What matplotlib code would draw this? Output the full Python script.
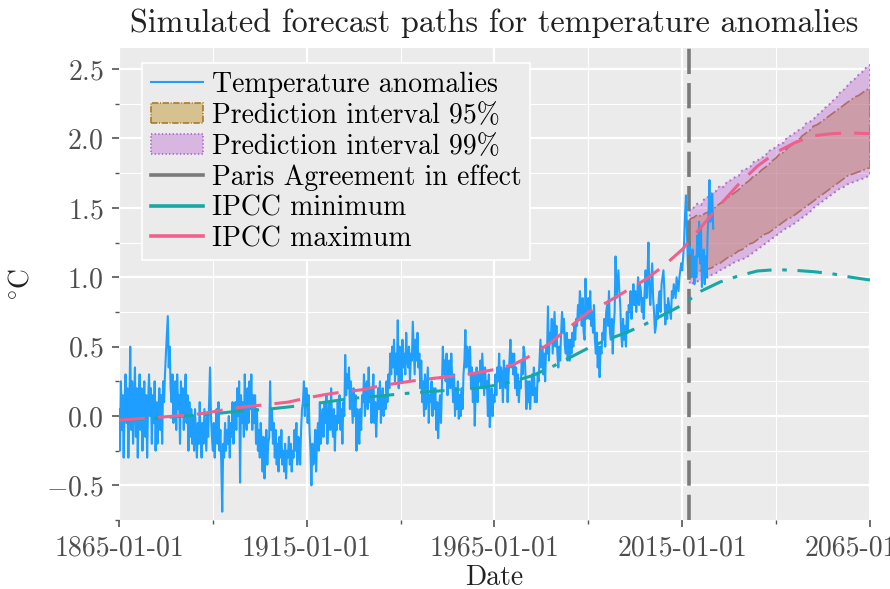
import pandas as pd
import matplotlib
matplotlib.use("Agg")
import matplotlib.pyplot as plt
from matplotlib.colors import to_rgba
from matplotlib.lines import Line2D
from matplotlib.ticker import MultipleLocator, FixedLocator

# quarterly temperature anomalies (deg C), 1865 Q1 onwards
temp_anom = [
    0.05, -0.25, 0.25, -0.10, 0.15, -0.30, 0.10, 0.30, -0.05, 0.20, -0.30, 0.05, 0.50, -0.10, 0.25, -0.20, 0.10, 0.35, -0.15, 0.20,
    -0.30, 0.10, 0.30, -0.10, 0.20, -0.25, 0.05, 0.25, -0.15, 0.15, -0.30, 0.10, 0.30, 0.00, 0.20, -0.20, 0.15, -0.05, 0.25, -0.25,
    0.10, -0.20, 0.05, 0.20, -0.10, 0.15, -0.20, 0.25, 0.10, 0.30, 0.45, 0.58, 0.72, 0.35, 0.50, 0.20, 0.10, 0.30, -0.05, 0.20,
    0.25, -0.10, 0.30, 0.05, 0.15, -0.20, 0.25, 0.00, 0.20, -0.10, 0.15, 0.30, -0.05, 0.15, -0.25, 0.10, -0.15, 0.05, -0.20, 0.00,
    -0.25, 0.05, -0.15, -0.30, -0.05, -0.20, 0.10, -0.15, -0.30, -0.05, -0.20, 0.05, -0.10, -0.25, 0.00, -0.15, 0.10, 0.35, 0.00, -0.15,
    -0.25, -0.05, -0.30, -0.10, 0.05, -0.20, 0.10, -0.25, -0.10, -0.35, -0.69, -0.20, -0.30, -0.05, -0.25, -0.10, -0.20, 0.00, -0.30, -0.05,
    -0.15, 0.10, -0.20, 0.05, 0.10, -0.10, 0.20, 0.00, 0.25, -0.48, 0.15, -0.05, 0.10, -0.15, 0.30, 0.00, -0.10, 0.20, -0.05, 0.25,
    0.05, 0.30, -0.10, 0.15, -0.05, 0.15, -0.20, 0.05, -0.25, -0.10, -0.30, -0.05, -0.20, -0.40, -0.15, -0.45, -0.30, -0.10, -0.35, -0.20,
    -0.15, 0.25, -0.10, 0.05, -0.20, -0.05, -0.30, -0.10, -0.35, -0.20, -0.40, -0.15, -0.30, -0.10, -0.35, -0.25, -0.40, -0.20, -0.45, -0.25,
    -0.30, -0.15, -0.35, -0.20, -0.40, -0.25, -0.30, -0.10, -0.25, -0.05, -0.35, -0.15, -0.20, -0.35, -0.10, 0.05, 0.10, 0.25, 0.00, 0.20,
    0.20, -0.05, 0.15, -0.10, -0.25, -0.50, -0.20, -0.35, -0.30, -0.10, -0.40, -0.15, -0.05, -0.25, 0.10, -0.20, -0.10, 0.05, -0.15, 0.10,
    -0.05, 0.15, -0.20, 0.00, 0.10, -0.10, 0.20, -0.05, -0.15, 0.05, -0.25, 0.00, -0.10, 0.10, -0.05, 0.15, -0.10, 0.05, -0.20, 0.10,
    0.00, 0.44, 0.15, 0.30, 0.20, 0.35, 0.05, 0.25, 0.10, -0.05, 0.20, 0.00, 0.15, -0.25, 0.05, -0.10, -0.20, 0.05, -0.10, 0.15,
    0.10, 0.30, 0.00, 0.20, 0.25, 0.05, 0.35, 0.10, 0.20, -0.05, 0.15, 0.30, -0.05, 0.10, -0.15, 0.05, 0.20, 0.05, 0.25, -0.05,
    0.10, 0.20, 0.00, 0.15, 0.05, 0.25, 0.10, 0.30, 0.20, 0.45, 0.30, 0.50, 0.35, 0.55, 0.25, 0.45, 0.30, 0.69, 0.20, 0.50,
    0.40, 0.25, 0.55, 0.35, 0.45, 0.30, 0.60, 0.40, 0.35, 0.50, 0.25, 0.45, 0.40, 0.68, 0.50, 0.30, 0.55, 0.40, 0.60, 0.35,
    0.45, 0.20, 0.40, 0.10, 0.25, 0.00, 0.30, 0.05, 0.20, 0.35, -0.05, 0.15, 0.10, 0.25, 0.00, 0.20, 0.05, 0.20, -0.10, 0.10,
    -0.16, 0.05, 0.15, -0.05, 0.20, 0.50, 0.30, 0.40, 0.25, 0.45, 0.15, 0.35, 0.40, 0.20, 0.45, 0.25, 0.10, 0.30, 0.00, 0.20,
    0.05, 0.25, -0.02, 0.15, 0.00, 0.20, 0.05, 0.30, 0.40, 0.62, 0.35, 0.50, 0.45, 0.30, 0.50, 0.20, 0.35, 0.10, 0.30, -0.07,
    0.20, 0.35, 0.10, 0.30, 0.25, 0.40, 0.20, 0.45, 0.30, 0.15, 0.35, 0.20, 0.25, 0.00, 0.30, -0.08, 0.05, 0.20, 0.00, 0.15,
    0.10, 0.30, 0.15, 0.35, 0.25, 0.45, 0.20, 0.35, 0.30, 0.10, 0.40, 0.25, 0.20, 0.35, 0.10, 0.30, 0.40, 0.55, 0.35, 0.45,
    0.30, 0.45, 0.20, 0.35, 0.15, 0.30, 0.10, 0.25, 0.20, 0.40, 0.30, 0.50, 0.45, 0.30, 0.05, 0.25, 0.10, 0.25, 0.05, 0.20,
    0.30, 0.15, 0.35, 0.10, 0.20, 0.10, 0.30, 0.25, 0.40, 0.55, 0.35, 0.50, 0.30, 0.45, 0.25, 0.50, 0.45, 0.79, 0.40, 0.60,
    0.55, 0.70, 0.45, 0.60, 0.75, 0.50, 0.65, 0.45, 0.35, 0.50, 0.40, 0.60, 0.75, 0.60, 0.70, 0.50, 0.45, 0.60, 0.40, 0.55,
    0.40, 0.55, 0.45, 0.60, 0.50, 0.65, 0.55, 0.70, 0.65, 0.80, 0.70, 0.90, 0.80, 0.65, 0.85, 0.60, 0.55, 0.99, 0.70, 0.80,
    0.85, 0.70, 0.90, 0.65, 0.75, 0.60, 0.80, 0.55, 0.45, 0.60, 0.35, 0.50, 0.28, 0.50, 0.45, 0.60, 0.55, 0.70, 0.50, 0.75,
    0.80, 0.65, 0.90, 0.60, 0.55, 0.70, 0.45, 0.65, 0.75, 1.15, 0.85, 0.95, 1.05, 0.90, 0.80, 0.60, 0.50, 0.70, 0.55, 0.65,
    0.50, 0.75, 0.60, 0.80, 0.75, 0.90, 0.70, 0.85, 0.95, 0.80, 0.90, 0.75, 0.85, 1.00, 0.80, 0.95, 0.90, 0.75, 0.85, 0.70,
    0.90, 1.05, 0.85, 1.00, 1.25, 0.90, 0.80, 0.95, 1.10, 0.85, 0.75, 0.60, 0.65, 0.80, 0.70, 0.85, 0.90, 0.75, 0.95, 1.00,
    1.05, 0.90, 0.66, 0.80, 0.70, 0.85, 0.80, 0.75, 0.70, 0.90, 0.85, 0.95, 0.90, 0.85, 1.00, 0.95, 0.90, 1.00, 1.05, 1.10,
    1.05, 1.15, 1.25, 1.45, 1.59, 1.35, 1.10, 1.00, 1.25, 1.10, 1.00, 1.20, 1.05, 0.95, 1.15, 1.00, 1.30, 1.15, 1.40, 1.10,
    1.35, 0.93, 1.10, 1.20, 0.95, 1.15, 1.00, 1.30, 1.45, 1.70, 1.40, 1.55, 1.60, 1.35,
]

# simulated prediction intervals, yearly 2017-2065
pi99_hi = [1.49, 1.50, 1.53, 1.52, 1.57, 1.58, 1.61, 1.62, 1.66, 1.65, 1.69, 1.70, 1.72, 1.73, 1.77, 1.78, 1.79,
           1.83, 1.84, 1.86, 1.87, 1.91, 1.92, 1.94, 1.96, 1.97, 2.01, 2.02, 2.04, 2.06, 2.07, 2.11, 2.12, 2.14,
           2.17, 2.19, 2.22, 2.24, 2.27, 2.29, 2.33, 2.35, 2.38, 2.41, 2.43, 2.46, 2.48, 2.51, 2.53]
pi95_hi = [1.42, 1.43, 1.45, 1.44, 1.46, 1.47, 1.48, 1.51, 1.53, 1.55, 1.57, 1.59, 1.61, 1.63, 1.66, 1.68, 1.70,
           1.73, 1.74, 1.77, 1.79, 1.81, 1.84, 1.86, 1.89, 1.90, 1.93, 1.95, 1.97, 1.99, 2.02, 2.04, 2.06, 2.09,
           2.10, 2.12, 2.14, 2.16, 2.18, 2.20, 2.22, 2.24, 2.26, 2.28, 2.30, 2.31, 2.33, 2.35, 2.36]
pi95_lo = [1.02, 1.03, 1.03, 1.05, 1.06, 1.06, 1.07, 1.09, 1.10, 1.12, 1.14, 1.15, 1.17, 1.19, 1.20, 1.22, 1.24,
           1.25, 1.27, 1.29, 1.31, 1.32, 1.34, 1.36, 1.38, 1.40, 1.42, 1.43, 1.45, 1.47, 1.49, 1.51, 1.53, 1.55,
           1.57, 1.59, 1.61, 1.63, 1.65, 1.67, 1.69, 1.71, 1.73, 1.74, 1.75, 1.76, 1.77, 1.78, 1.79]
pi99_lo = [0.95, 0.96, 0.97, 0.98, 0.99, 1.00, 1.02, 1.03, 1.05, 1.06, 1.08, 1.09, 1.11, 1.12, 1.13, 1.14, 1.16,
           1.18, 1.20, 1.22, 1.24, 1.26, 1.28, 1.30, 1.32, 1.34, 1.36, 1.37, 1.39, 1.41, 1.43, 1.45, 1.47, 1.50,
           1.52, 1.54, 1.56, 1.58, 1.60, 1.62, 1.64, 1.65, 1.67, 1.68, 1.69, 1.70, 1.71, 1.72, 1.74]

# IPCC scenario curves, every 5 years 1865-2065
ipcc_min = [-0.03, -0.025, -0.015, -0.005, 0.005, 0.015, 0.03, 0.04, 0.05, 0.065, 0.08, 0.10, 0.12, 0.135,
            0.145, 0.16, 0.17, 0.18, 0.19, 0.20, 0.22, 0.25, 0.29, 0.35, 0.42, 0.49, 0.55, 0.60, 0.66, 0.73,
            0.80, 0.90, 0.965, 1.01, 1.045, 1.055, 1.05, 1.04, 1.025, 1.00, 0.98]
ipcc_max = [-0.03, -0.02, -0.01, 0.0, 0.01, 0.03, 0.055, 0.07, 0.085, 0.10, 0.13, 0.155, 0.175, 0.19,
            0.22, 0.24, 0.26, 0.275, 0.29, 0.31, 0.335, 0.37, 0.44, 0.53, 0.64, 0.75, 0.82, 0.90, 0.98, 1.08,
            1.20, 1.36, 1.52, 1.67, 1.80, 1.90, 1.97, 2.02, 2.035, 2.04, 2.035]

paris_date = "2016-11-04"
xtick_labels = ["1865-01-01", "1915-01-01", "1965-01-01", "2015-01-01", "2065-01-01"]
xminor = ["1890-01-01", "1940-01-01", "1990-01-01", "2040-01-01"]

plt.rcParams["font.family"] = "serif"
plt.rcParams["font.serif"] = ["cmr10"]
plt.rcParams["mathtext.fontset"] = "cm"
plt.rcParams["axes.formatter.use_mathtext"] = True
plt.rcParams["font.size"] = 10

t_dates = pd.date_range("1865-01-01", periods=len(temp_anom), freq="QS")
pi_dates = pd.date_range("2017-01-01", periods=len(pi99_hi), freq="YS")
ipcc_dates = pd.date_range("1865-01-01", periods=len(ipcc_min), freq="5YS")

fig = plt.figure(figsize=(4.45, 2.945), dpi=200)
ax = fig.add_axes([0.1337, 0.117, 0.8438, 0.801])
ax.set_facecolor("#EBEBEB")

c_temp = "#1E9FFF"
c_95, c_95e = to_rgba("darkgoldenrod", 0.4), "#A97A2C"
c_99, c_99e = to_rgba("mediumorchid", 0.35), "#B070D0"
c_paris, c_min, c_max = "#7A7A7A", "#17A8A4", "#F0608C"

ax.plot(t_dates, temp_anom, color=c_temp, lw=0.75)
p95 = ax.fill_between(pi_dates, pi95_lo, pi95_hi, facecolor=c_95,
                      edgecolor=c_95e, linestyle="-.", linewidth=0.6)
p99 = ax.fill_between(pi_dates, pi99_lo, pi99_hi, facecolor=c_99,
                      edgecolor=c_99e, linestyle=":", linewidth=0.7)
ax.axvline(pd.Timestamp(paris_date), color=c_paris, lw=1.3, linestyle=(0, (7, 2.5)))
ax.plot(ipcc_dates, ipcc_min, color=c_min, lw=1.1, linestyle=(0, (8, 3.5, 1.5, 3.5)))
ax.plot(ipcc_dates, ipcc_max, color=c_max, lw=1.1, linestyle=(0, (8.5, 4.3)))

ax.set_xlim(pd.Timestamp(xtick_labels[0]), pd.Timestamp(xtick_labels[-1]))
ax.set_ylim(-0.75, 2.65)
ax.set_xticks(pd.to_datetime(xtick_labels))
ax.set_xticklabels(xtick_labels)
ax.xaxis.set_minor_locator(FixedLocator(matplotlib.dates.date2num(pd.to_datetime(xminor))))
ax.yaxis.set_major_locator(MultipleLocator(0.5))
ax.yaxis.set_minor_locator(MultipleLocator(0.25))

ax.grid(which="major", color="white", lw=0.8)
ax.grid(which="minor", color="white", lw=0.4)
ax.set_axisbelow(True)
for s in ax.spines.values():
    s.set_visible(False)
ax.tick_params(which="major", length=2.5, width=0.6, color="#555555", labelcolor="#4D4D4D", pad=3)
ax.tick_params(which="minor", length=1.5, width=0.5, color="#555555")

ax.set_title("Simulated forecast paths for temperature anomalies", fontsize=11.6, color="#222222")
ax.set_xlabel("Date", color="#222222", labelpad=1)
ax.set_ylabel(r"$^{\circ}\mathrm{C}$", color="#222222")

handles = [
    Line2D([], [], color=c_temp, lw=0.75),
    p95,
    p99,
    Line2D([], [], color=c_paris, lw=1.3),
    Line2D([], [], color=c_min, lw=1.3),
    Line2D([], [], color=c_max, lw=1.3),
]
labels = ["Temperature anomalies", "Prediction interval 95%", "Prediction interval 99%",
          "Paris Agreement in effect", "IPCC minimum", "IPCC maximum"]
leg = ax.legend(handles, labels, loc="upper left", bbox_to_anchor=(0.031, 0.968), borderaxespad=0,
                labelspacing=0.16, handlelength=1.9, handletextpad=0.3, borderpad=0.3,
                facecolor="#EBEBEB", edgecolor="white", framealpha=1, fancybox=False)
leg.get_frame().set_linewidth(0.6)

fig.savefig("out.png", dpi=200)
